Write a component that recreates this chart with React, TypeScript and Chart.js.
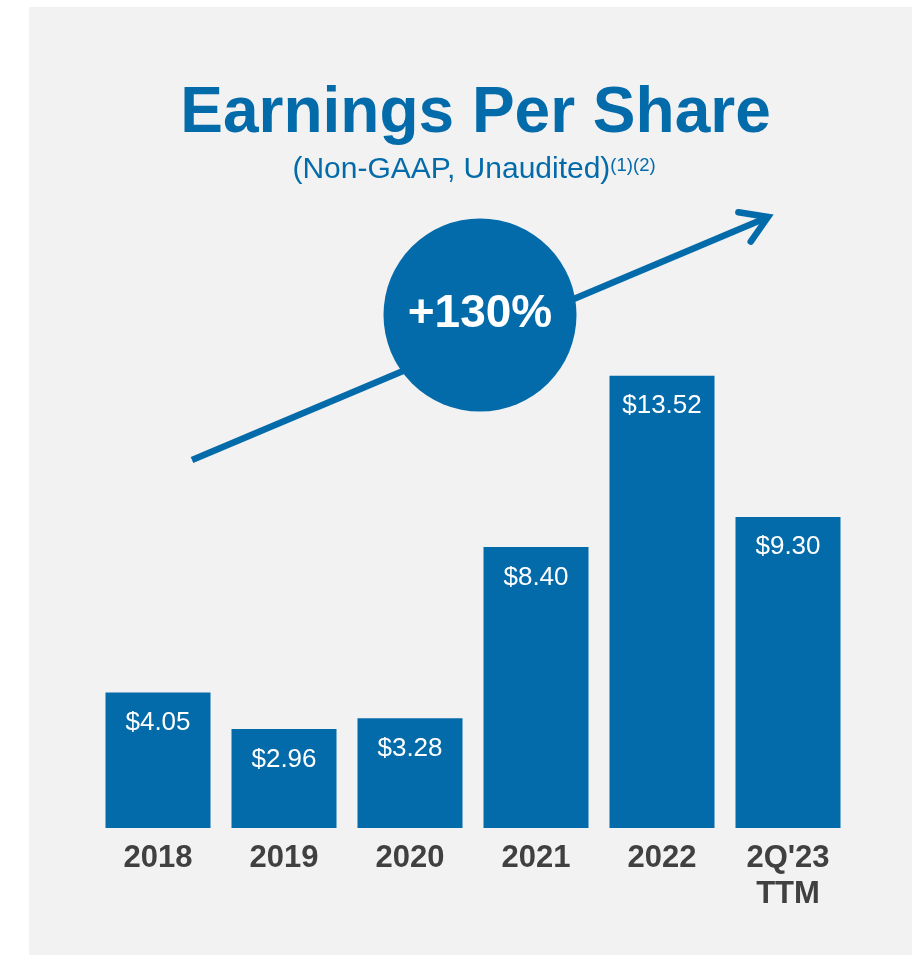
import React, { useEffect, useRef } from "react";
import { Chart, registerables } from "chart.js";

Chart.register(...registerables);

const categories: (string | string[])[] = ["2018", "2019", "2020", "2021", "2022", ["2Q'23", "TTM"]];
const epsValues: number[] = [4.05, 2.96, 3.28, 8.4, 13.52, 9.3];
const titleText = "Earnings Per Share";
const subtitleText = "(Non-GAAP, Unaudited)";
const subtitleNote = "(1)(2)";
const growthText = "+130%";

const BLUE = "#046baa";
const GREY_BG = "#f2f2f2";
const LABEL_DARK = "#404040";
const FONT = "'Liberation Sans', Arial, Helvetica, sans-serif";

const decorPlugin = {
  id: "decor",
  beforeDatasetsDraw(chart: any) {
    const ctx = chart.ctx as CanvasRenderingContext2D;
    ctx.save();
    // Title
    ctx.fillStyle = BLUE;
    ctx.textAlign = "center";
    ctx.textBaseline = "alphabetic";
    ctx.font = `bold 64px ${FONT}`;
    ctx.fillText(titleText, 475.5, 132);

    // Subtitle with superscript
    ctx.font = `30px ${FONT}`;
    const w1 = ctx.measureText(subtitleText).width;
    ctx.font = `18.5px ${FONT}`;
    const w2 = ctx.measureText(subtitleNote).width;
    const startX = 474 - (w1 + w2) / 2;
    ctx.textAlign = "left";
    ctx.font = `30px ${FONT}`;
    ctx.fillText(subtitleText, startX, 178);
    ctx.font = `18.5px ${FONT}`;
    ctx.fillText(subtitleNote, startX + w1, 171);

    // Arrow
    const x0 = 192, y0 = 460, x1 = 768, y1 = 217;
    ctx.strokeStyle = BLUE;
    ctx.lineWidth = 6.5;
    ctx.lineCap = "butt";
    ctx.beginPath();
    ctx.moveTo(x0, y0);
    ctx.lineTo(x1 - 4, y1 + 1.7);
    ctx.stroke();
    const ang = Math.atan2(y1 - y0, x1 - x0);
    const back = ang + Math.PI;
    const armLen = 30;
    const half = (32 * Math.PI) / 180;
    ctx.lineCap = "round";
    ctx.lineJoin = "miter";
    ctx.beginPath();
    ctx.moveTo(x1 + armLen * Math.cos(back - half), y1 + armLen * Math.sin(back - half));
    ctx.lineTo(x1, y1);
    ctx.lineTo(x1 + armLen * Math.cos(back + half), y1 + armLen * Math.sin(back + half));
    ctx.stroke();

    // Circle
    ctx.fillStyle = BLUE;
    ctx.beginPath();
    ctx.arc(480, 315, 96.5, 0, Math.PI * 2);
    ctx.fill();
    ctx.fillStyle = "#ffffff";
    ctx.textAlign = "center";
    ctx.font = `bold 46px ${FONT}`;
    ctx.fillText(growthText, 480, 327);
    ctx.restore();
  },
  afterDatasetsDraw(chart: any) {
    const ctx = chart.ctx as CanvasRenderingContext2D;
    const meta = chart.getDatasetMeta(0);
    ctx.save();
    ctx.fillStyle = "#ffffff";
    ctx.textAlign = "center";
    ctx.textBaseline = "alphabetic";
    ctx.font = `26px ${FONT}`;
    meta.data.forEach((bar: any, i: number) => {
      const v = chart.data.datasets[0].data[i] as number;
      ctx.fillText(`$${v.toFixed(2)}`, bar.x, bar.y + 37.5);
    });
    ctx.restore();
  },
};

export default function App() {
  const canvasRef = useRef<HTMLCanvasElement | null>(null);

  useEffect(() => {
    if (!canvasRef.current) return;
    const chart = new Chart(canvasRef.current, {
      type: "bar",
      data: {
        labels: categories as any,
        datasets: [
          {
            data: epsValues,
            backgroundColor: BLUE,
            borderWidth: 0,
            barPercentage: 105 / 126,
            categoryPercentage: 1,
          },
        ],
      },
      options: {
        responsive: false,
        animation: false,
        devicePixelRatio: 1,
        layout: { padding: { left: 95, right: 66, top: 226, bottom: 0 } },
        plugins: {
          legend: { display: false },
          tooltip: { enabled: false },
          title: { display: false },
        },
        scales: {
          x: {
            grid: { display: false, drawTicks: false },
            border: { display: false },
            ticks: {
              color: LABEL_DARK,
              font: { family: FONT, size: 31, weight: "bold", lineHeight: 1.16 },
              padding: 12.5,
              maxRotation: 0,
              autoSkip: false,
            },
            afterFit: (scale: any) => {
              scale.height = 127;
            },
          },
          y: {
            display: false,
            min: 0,
            max: 18,
          },
        },
      },
      plugins: [decorPlugin],
    });
    return () => chart.destroy();
  }, []);

  return (
    <div style={{ position: "absolute", left: 0, top: 0, width: 917, height: 955, background: "#ffffff", overflow: "hidden" }}>
      <div style={{ position: "absolute", left: 29, top: 7, width: 883, height: 948, background: GREY_BG }} />
      <canvas ref={canvasRef} width={917} height={955} style={{ position: "absolute", left: 0, top: 0, width: 917, height: 955 }} />
    </div>
  );
}
